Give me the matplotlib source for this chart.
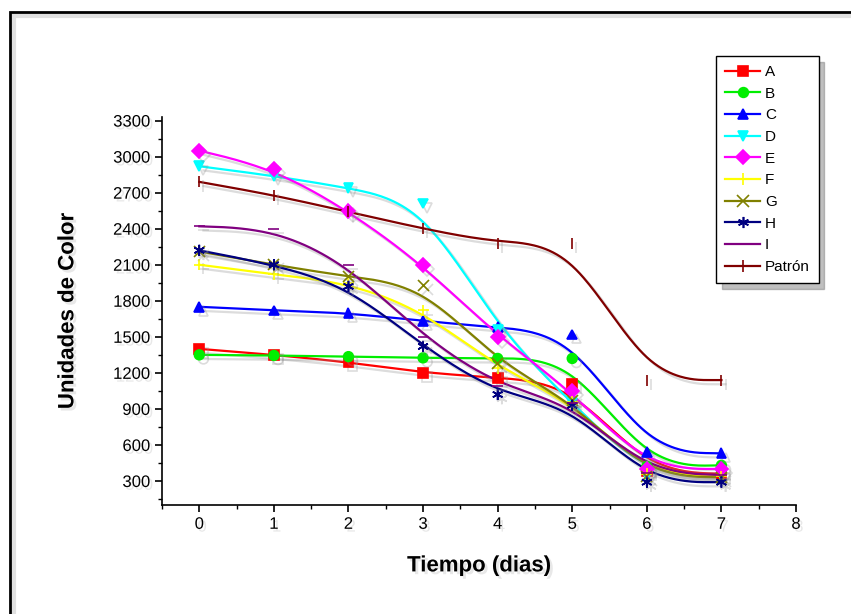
import numpy as np
import matplotlib
matplotlib.use('Agg')
import matplotlib.pyplot as plt
import matplotlib.patheffects as pe
from matplotlib.patches import Rectangle

plt.rcParams['font.family'] = ['Liberation Sans', 'DejaVu Sans']

dias = [0, 1, 2, 3, 4, 5, 6, 7]
A = [1400, 1350, 1290, 1200, 1160, 1110, 380, 360]
B = [1350, 1345, 1335, 1325, 1320, 1320, 420, 430]
C = [1750, 1720, 1700, 1630, 1580, 1520, 540, 530]
D = [2920, 2840, 2740, 2610, 1560, 950, 340, 350]
E = [3050, 2900, 2550, 2100, 1500, 1050, 400, 400]
F = [2100, 2020, 1950, 1720, 1240, 960, 360, 340]
G = [2210, 2100, 2000, 1930, 1280, 970, 340, 330]
H = [2220, 2100, 1920, 1420, 1020, 930, 290, 290]
I = [2420, 2400, 2100, 1500, 1090, 950, 370, 350]
patron = [2790, 2680, 2540, 2400, 2280, 2280, 1140, 1140]

series = [
    ('A', A, 'red', 's'),
    ('B', B, '#00ee00', 'o'),
    ('C', C, 'blue', '^'),
    ('D', D, 'cyan', 'v'),
    ('E', E, 'magenta', 'D'),
    ('F', F, 'yellow', '+'),
    ('G', G, '#808000', 'x'),
    ('H', H, '#000080', (6, 2, 0)),
    ('I', I, '#800080', '_'),
    ('Patrón', patron, '#800000', '|'),
]


def bspline(xs, ys, n=40):
    # uniform cubic B-spline, end points repeated so the curve is clamped
    P = np.column_stack([xs, ys]).astype(float)
    Q = np.vstack([P[:1], P[:1], P, P[-1:], P[-1:]])
    t = np.linspace(0, 1, n)
    b0 = (1 - t) ** 3 / 6
    b1 = (3 * t ** 3 - 6 * t ** 2 + 4) / 6
    b2 = (-3 * t ** 3 + 3 * t ** 2 + 3 * t + 1) / 6
    b3 = t ** 3 / 6
    out = []
    for i in range(len(Q) - 3):
        seg = (np.outer(b0, Q[i]) + np.outer(b1, Q[i + 1])
               + np.outer(b2, Q[i + 2]) + np.outer(b3, Q[i + 3]))
        out.append(seg)
    out = np.vstack(out)
    return out[:, 0], out[:, 1]


fig = plt.figure(figsize=(8.51, 6.14), dpi=100)

# outer frame
fig.patches.append(Rectangle((14 / 851, -0.1), 1.0, (614 - 16) / 614 + 0.1,
                             transform=fig.transFigure, fill=False,
                             ec='0.88', lw=3, zorder=0))
fig.patches.append(Rectangle((10 / 851, -0.1), 1.0, (614 - 12) / 614 + 0.1,
                             transform=fig.transFigure, fill=False,
                             ec='black', lw=2, zorder=1))

ax = fig.add_axes([162 / 851, 1 - 505 / 614, (796 - 162) / 851, (505 - 117) / 614])

shadow = [pe.SimpleLineShadow(offset=(3, -3), shadow_color='0.55', alpha=0.3), pe.Normal()]

for name, vals, col, mk in series:
    sx, sy = bspline(dias, vals)
    ax.plot(sx, sy, color=col, lw=1.6, zorder=2, path_effects=shadow)
    ms = 8 if mk in ('+', 'x', '|', '_', (6, 2, 0)) else 7
    ax.plot(dias, vals, ls='none', marker=mk, color=col, ms=ms, mew=1.2,
            zorder=3, path_effects=shadow)
    ax.plot([], [], color=col, lw=1.6, marker=mk, ms=ms, mew=1.2, label=name)

ax.set_xlim(-0.5, 8)
ax.set_ylim(100, 3330)
ax.set_xticks(range(0, 9))
ax.set_xticks(np.arange(-0.5, 8.01, 0.5), minor=True)
ax.set_yticks(range(300, 3301, 300))
ax.set_yticks(range(150, 3301, 150), minor=True)

for s in ['top', 'right']:
    ax.spines[s].set_visible(False)
ax.spines['left'].set_linewidth(1.2)
ax.spines['bottom'].set_linewidth(1.2)
ax.tick_params(axis='both', which='major', length=5, width=1.2, labelsize=12, direction='out')
ax.tick_params(axis='both', which='minor', length=3, width=1.0, direction='out')

txt_shadow = [pe.withSimplePatchShadow(offset=(2, -2), shadow_rgbFace='0.7', alpha=0.3)]
for lab in ax.get_xticklabels() + ax.get_yticklabels():
    lab.set_path_effects(txt_shadow)

ax.set_xlabel('Tiempo (dias)', fontsize=16, fontweight='bold', labelpad=17,
              path_effects=txt_shadow)
ax.set_ylabel('Unidades de Color', fontsize=16, fontweight='bold', labelpad=25,
              path_effects=txt_shadow)

leg = fig.legend(loc='upper left', bbox_to_anchor=(716 / 851, 1 - 56 / 614),
                 fontsize=11, frameon=True, fancybox=False, edgecolor='black',
                 labelspacing=0.5, handlelength=2.3, handletextpad=0.3,
                 borderpad=0.6, borderaxespad=0,
                 shadow={'color': '0.5', 'alpha': 0.5, 'ox': 4, 'oy': -4})
leg.get_frame().set_linewidth(1.0)

fig.savefig('out.png', dpi=100)
